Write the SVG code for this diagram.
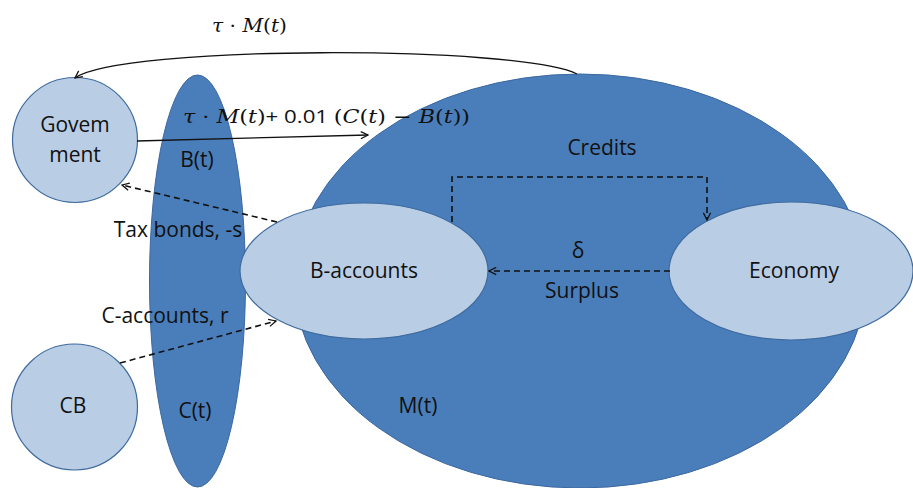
<svg xmlns="http://www.w3.org/2000/svg" width="913" height="488" viewBox="0 0 913 488">
<style>
.big{fill:#4a7ebb;stroke:#3b67a0;stroke-width:1}
.node{fill:#b9cde5;stroke:#3f6b9e;stroke-width:1.2}
.lbl{font-family:"Open Sans","DejaVu Sans",sans-serif;font-size:21px;fill:#111;text-anchor:middle}
.math{font-family:"DejaVu Serif","Liberation Serif",serif;font-size:19px;fill:#111}
.mi{font-style:italic}
.solid{fill:none;stroke:#111;stroke-width:1.3}
.dash{fill:none;stroke:#111;stroke-width:1.6;stroke-dasharray:6 4}
</style>
<defs>
<marker id="ah" viewBox="0 0 10 10" refX="9" refY="5" markerWidth="9" markerHeight="9" markerUnits="userSpaceOnUse" orient="auto">
<path d="M1,1 L9,5 L1,9" fill="none" stroke="#111" stroke-width="1.4"/>
</marker>
</defs>
<g id="M-ellipse"><ellipse class="big" cx="580" cy="281" rx="286" ry="207"/></g>
<g id="BC-ellipse"><ellipse class="big" cx="197.5" cy="281" rx="48" ry="206"/></g>
<g id="government"><circle class="node" cx="75" cy="140" r="62.5"/>
<text class="lbl" x="75" y="132">Govem</text><text class="lbl" x="75" y="162">ment</text></g>
<g id="cb"><circle class="node" cx="74.5" cy="407" r="63"/><text class="lbl" x="73" y="413">CB</text></g>
<g id="b-accounts"><ellipse class="node" cx="364" cy="271" rx="124" ry="68"/><text class="lbl" x="364" y="278">B-accounts</text></g>
<g id="economy"><ellipse class="node" cx="791" cy="271" rx="122" ry="69"/><text class="lbl" x="794" y="278">Economy</text></g>
<g id="connectors">
<path class="solid" d="M577,74 C520,45 120,45 75,78" marker-end="url(#ah)"/>
<path class="solid" d="M137,141 L368,135" marker-end="url(#ah)"/>
<path class="dash" d="M452,222 L452,177 L707,177 L707,220" marker-end="url(#ah)"/>
<path class="dash" d="M670,271 L489,271" marker-end="url(#ah)"/>
<path class="dash" d="M277,222 L122,185" marker-end="url(#ah)"/>
<path class="dash" d="M120,363 L276,321" marker-end="url(#ah)"/>
</g>
<g id="labels">
<text class="math" x="212" y="32" textLength="75" lengthAdjust="spacingAndGlyphs"><tspan class="mi">τ</tspan> · <tspan class="mi">M</tspan>(<tspan class="mi">t</tspan>)</text>
<text class="math" x="183" y="123" textLength="287" lengthAdjust="spacingAndGlyphs"><tspan class="mi">τ</tspan> · <tspan class="mi">M</tspan>(<tspan class="mi">t</tspan>)<tspan font-family="Open Sans, sans-serif">+ 0.01 </tspan>(<tspan class="mi">C</tspan>(<tspan class="mi">t</tspan>) − <tspan class="mi">B</tspan>(<tspan class="mi">t</tspan>))</text>
<text class="lbl" x="197" y="167">B(t)</text>
<text class="lbl" x="195" y="418">C(t)</text>
<text class="lbl" x="418" y="413">M(t)</text>
<text class="lbl" x="178" y="237">Tax bonds, -s</text>
<text class="lbl" x="165" y="323">C-accounts, r</text>
<text class="lbl" x="602" y="155">Credits</text>
<text class="lbl" x="578" y="258">δ</text>
<text class="lbl" x="582" y="298">Surplus</text>
</g>
</svg>
